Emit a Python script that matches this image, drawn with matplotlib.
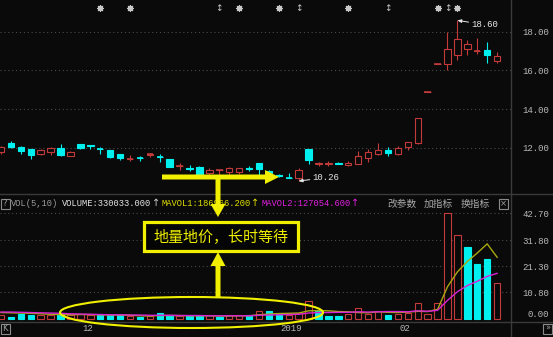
import matplotlib
matplotlib.use("Agg")
import matplotlib.pyplot as plt
import numpy as np
from matplotlib.patches import Rectangle, Ellipse, FancyArrow
from matplotlib.transforms import Affine2D

plt.rcParams['font.family'] = ['Liberation Mono', 'Noto Sans CJK SC', 'DejaVu Sans']

# 日K线 (开, 高, 低, 收)
opens  = [11.75, 12.22, 12.04, 11.91, 11.65, 11.78, 11.99, 11.56, 12.17, 12.12,
          11.95, 11.87, 11.66, 11.41, 11.46, 11.63, 11.53, 11.42, 11.03, 10.93,
          11.00, 10.66, 10.82, 10.71, 10.72, 10.93, 11.18, 10.78, 10.55, 10.44,
          10.40, 11.91, 11.15, 11.14, 11.19, 11.08, 11.14, 11.44, 11.65, 11.87,
          11.66, 12.01, 12.22, 14.87, 16.36, 16.36, 16.80, 17.10, 17.00, 17.06, 16.49]
highs  = [12.10, 12.34, 12.10, 11.93, 11.90, 12.04, 12.18, 11.80, 12.19, 12.12,
          12.04, 11.88, 11.67, 11.60, 11.57, 11.74, 11.66, 11.43, 11.22, 11.07,
          11.02, 10.95, 10.84, 10.97, 10.94, 11.06, 11.20, 10.85, 10.62, 10.66,
          10.92, 11.93, 11.26, 11.28, 11.24, 11.30, 11.82, 11.91, 12.22, 12.04,
          12.08, 12.30, 13.52, 14.87, 16.36, 18.00, 18.60, 17.58, 17.67, 17.50, 16.94]
lows   = [11.65, 12.00, 11.66, 11.39, 11.62, 11.60, 11.58, 11.54, 11.90, 11.94,
          11.65, 11.47, 11.35, 11.28, 11.32, 11.49, 11.25, 10.98, 10.83, 10.80,
          10.55, 10.55, 10.57, 10.60, 10.65, 10.76, 10.57, 10.62, 10.45, 10.42,
          10.26, 11.13, 11.05, 11.05, 11.12, 11.04, 11.12, 11.23, 11.60, 11.55,
          11.60, 11.87, 12.20, 14.87, 16.36, 16.03, 16.55, 16.80, 16.84, 16.37, 16.37]
closes = [12.05, 12.01, 11.83, 11.60, 11.87, 11.99, 11.60, 11.78, 11.99, 12.10,
          11.93, 11.49, 11.45, 11.43, 11.44, 11.66, 11.51, 11.00, 11.05, 10.91,
          10.57, 10.83, 10.84, 10.92, 10.92, 10.91, 10.87, 10.70, 10.53, 10.42,
          10.83, 11.35, 11.20, 11.20, 11.17, 11.21, 11.57, 11.75, 11.87, 11.70,
          11.99, 12.27, 13.52, 14.87, 16.36, 17.10, 17.64, 17.36, 17.02, 16.80, 16.77]

# 成交量(万) 及颜色 1=红 0=绿
vols = [1.6, 1.0, 2.1, 1.7, 1.5, 1.5, 2.1, 1.5, 2.1, 1.5,
        1.5, 1.5, 1.5, 1.1, 0.9, 1.1, 2.4, 1.5, 1.1, 1.1,
        1.1, 1.5, 0.9, 1.5, 1.5, 1.5, 3.1, 3.1, 2.1, 1.7,
        2.3, 7.1, 3.1, 1.3, 1.3, 2.1, 4.6, 2.1, 3.2, 1.5,
        2.2, 2.4, 6.4, 2.0, 6.4, 42.7, 33.8, 29.0, 22.2, 24.2, 14.5]
vol_up = [1, 0, 0, 0, 1, 1, 0, 1, 1, 1,
          0, 0, 0, 1, 0, 1, 0, 0, 1, 0,
          0, 1, 0, 1, 1, 0, 1, 0, 0, 1,
          1, 1, 0, 0, 0, 1, 1, 1, 1, 0,
          1, 1, 1, 1, 1, 1, 1, 0, 0, 0, 1]
mavol1 = [2.6, 2.5, 2.4, 2.3, 2.1, 1.9, 1.8, 1.7, 1.8, 1.8,
          1.7, 1.6, 1.6, 1.5, 1.3, 1.2, 1.4, 1.4, 1.4, 1.3,
          1.3, 1.3, 1.2, 1.2, 1.3, 1.3, 1.7, 2.0, 2.2, 2.3,
          2.4, 3.3, 3.4, 3.3, 3.0, 2.9, 2.6, 2.5, 2.9, 2.7,
          2.6, 2.8, 3.1, 3.0, 3.9, 13.0, 19.0, 23.2, 26.6, 30.3, 24.9]
mavol2 = [2.8, 2.8, 2.7, 2.6, 2.5, 2.4, 2.3, 2.1, 2.0, 1.9,
          1.8, 1.7, 1.7, 1.6, 1.6, 1.5, 1.5, 1.5, 1.4, 1.4,
          1.4, 1.3, 1.3, 1.3, 1.3, 1.3, 1.5, 1.6, 1.7, 1.8,
          1.9, 2.4, 2.6, 2.6, 2.7, 2.7, 2.9, 2.8, 2.9, 3.0,
          3.0, 2.9, 3.3, 3.1, 3.5, 7.5, 11.0, 13.5, 15.2, 17.2, 18.4]

price_ticks = [12, 14, 16, 18]
vol_ticks = [0, 10.8, 21.3, 31.8, 42.7]
date_idx = [8, 28, 40]
date_labels = ['12', '2019', '02']
star_idx = [10, 13, 24, 28, 35, 44, 46]
updown_idx = [22, 30, 39, 45]

BG = '#0a0a0a'
RED = '#c23a3a'
CYAN = '#00f0f0'
GRID = '#4a4a4a'
LINE = '#3a3a3a'
TXT = '#b8b8b8'
YEL = '#f0f000'

W, H = 553, 337
fig = plt.figure(figsize=(W / 100, H / 100), dpi=100, facecolor=BG)
pix = Affine2D().scale(1 / W, -1 / H).translate(0, 1) + fig.transFigure


def frame(x0, y0, x1, y1):
    return [x0 / W, 1 - y1 / H, (x1 - x0) / W, (y1 - y0) / H]


ax_p = fig.add_axes(frame(0, 0, 511, 193))
ax_v = fig.add_axes(frame(0, 195, 511, 322))
x = np.arange(len(opens))
o, h, l, c = map(np.array, (opens, highs, lows, closes))
up = c >= o
bw = 0.65

for ax in (ax_p, ax_v):
    ax.set_facecolor(BG)
    for s in ax.spines.values():
        s.set_visible(False)
    ax.set_xlim(-0.1, 51.4)
    ax.set_xticks([])
    ax.yaxis.tick_right()
    ax.tick_params(axis='y', length=0, pad=27.4, labelcolor=TXT, labelsize=6.5)

# K线
ax_p.vlines(x[up], l[up], h[up], color=RED, lw=0.8, zorder=1)
ax_p.vlines(x[~up], l[~up], h[~up], color=CYAN, lw=0.8, zorder=1)
ax_p.bar(x[up], (c - o)[up], bottom=o[up], width=bw, facecolor=BG, edgecolor=RED, lw=0.8, zorder=2)
ax_p.bar(x[~up], (c - o)[~up], bottom=o[~up], width=bw, facecolor=CYAN, edgecolor=CYAN, lw=0.8, zorder=2)
flat = np.abs(c - o) < 0.03
ax_p.hlines(c[flat], x[flat] - bw / 2, x[flat] + bw / 2,
            colors=[RED if u else CYAN for u in up[flat]], lw=1.2, zorder=3)
ax_p.set_yticks(price_ticks, ['%.2f' % t for t in price_ticks])
for t in price_ticks:
    ax_p.axhline(t, color=GRID, lw=0.8, ls=(0, (1, 2.5)), zorder=0)
for lbl in ax_p.get_yticklabels():
    lbl.set_ha('right')

# 最高/最低标注
arw = dict(arrowstyle='-|>,head_length=0.35,head_width=0.15', color='#e8e8e8', lw=0.7,
           shrinkA=0, shrinkB=0)
imax, imin = int(np.argmax(h)), int(np.argmin(l))
ax_p.annotate('%.2f' % h[imax], xy=(imax, h[imax]), xytext=(10, -3), textcoords='offset points',
              ha='left', va='center', color='#e8e8e8', fontsize=6.5, arrowprops=arw)
ax_p.annotate('%.2f' % l[imin], xy=(imin, l[imin]), xytext=(10, 2.5), textcoords='offset points',
              ha='left', va='center', color='#e8e8e8', fontsize=6.5, arrowprops=arw)

# 信息地雷
ax_p.scatter(star_idx, [0.958] * len(star_idx), transform=ax_p.get_xaxis_transform(),
             marker=(8, 2, 0), s=18, color='#c8c8c8', lw=0.9, clip_on=False, zorder=5)
for i in updown_idx:
    ax_p.text(i, 0.958, '↕', transform=ax_p.get_xaxis_transform(), ha='center', va='center',
              fontsize=6.5, color='#c8c8c8', family='DejaVu Sans')
ax_p.set_xlim(-0.1, 51.4)
ax_p.set_ylim(9.64, 19.66)

# 成交量
vu = np.array(vol_up, dtype=bool)
v = np.array(vols)
ax_v.bar(x[vu], v[vu], width=bw, facecolor=BG, edgecolor=RED, lw=0.8, zorder=2)
ax_v.bar(x[~vu], v[~vu], width=bw, facecolor=CYAN, edgecolor=CYAN, lw=0.8, zorder=2)
ax_v.plot(x, mavol1, color='#a8a810', lw=1.0, zorder=3)
ax_v.plot(x, mavol2, color='#d822d8', lw=1.0, zorder=3)
ax_v.set_ylim(-1.21, 50.0)
ax_v.set_yticks(vol_ticks, ['%.2f' % t for t in vol_ticks])
for t in vol_ticks[1:]:
    ax_v.axhline(t, color=GRID, lw=0.8, ls=(0, (1, 2.5)), zorder=0)
for k, lbl in enumerate(ax_v.get_yticklabels()):
    lbl.set_ha('right')
    if k == 0:
        lbl.set_va('bottom')
for i, s in zip(date_idx, date_labels):
    ax_v.text(i + 0.15, -0.055, s, transform=ax_v.get_xaxis_transform(), ha='left', va='center',
              color=TXT, fontsize=6.5)

# 面板分隔线
fig.add_artist(plt.Line2D([0, 553], [193.5, 193.5], transform=pix, color=LINE, lw=1))
fig.add_artist(plt.Line2D([0, 553], [322, 322], transform=pix, color=LINE, lw=1))
fig.add_artist(plt.Line2D([511, 511], [0, 337], transform=pix, color=LINE, lw=1))

# 指标标题栏
hy = 203.5
fig.text(11, hy, 'VOL(5,10)', transform=pix, color='#9a9a9a', fontsize=6.3, va='center')
fig.text(62, hy, 'VOLUME:330033.000', transform=pix, color='#e4e4e4', fontsize=6.3, va='center')
fig.text(152, hy, '↑', transform=pix, color='#d0d0d0', fontsize=7, va='center', family='DejaVu Sans')
fig.text(161, hy, 'MAVOL1:186966.200', transform=pix, color='#e0e000', fontsize=6.3, va='center')
fig.text(251, hy, '↑', transform=pix, color='#e0e000', fontsize=7, va='center', family='DejaVu Sans')
fig.text(262, hy, 'MAVOL2:127054.600', transform=pix, color='#e020e0', fontsize=6.3, va='center')
fig.text(351, hy, '↑', transform=pix, color='#e020e0', fontsize=7, va='center', family='DejaVu Sans')
for xx, s in [(387, '改参数'), (424, '加指标'), (461, '换指标')]:
    fig.text(xx, hy, s, transform=pix, color='#a8a8a8', fontsize=7, va='center',
             family='Noto Sans CJK SC')
for (x0, y0, s) in [(0.5, 198.5, '?'), (498.5, 198.5, '×'), (0.5, 323.5, 'K'), (543, 323.5, '»')]:
    fig.add_artist(Rectangle((x0, y0), 9, 10, transform=pix, facecolor='none', edgecolor='#8a8a8a', lw=0.8))
    fig.text(x0 + 4.5, y0 + 5, s, transform=pix, color='#a0a0a0', fontsize=6, ha='center', va='center',
             family='DejaVu Sans')

# 黄色标注
fig.add_artist(FancyArrow(162, 177, 117, 0, width=5, head_width=14, head_length=14,
                          length_includes_head=True, transform=pix, color=YEL, lw=0, zorder=10))
fig.add_artist(FancyArrow(218, 175, 0, 42, width=5, head_width=15, head_length=13,
                          length_includes_head=True, transform=pix, color=YEL, lw=0, zorder=10))
fig.add_artist(FancyArrow(218, 297, 0, -45, width=5, head_width=15, head_length=14,
                          length_includes_head=True, transform=pix, color=YEL, lw=0, zorder=10))
fig.add_artist(Rectangle((144, 222), 154, 29, transform=pix, facecolor='#050505', edgecolor=YEL,
                         lw=2.3, zorder=10))
fig.text(221, 237, '地量地价，长时等待', transform=pix, color=YEL, fontsize=10.8, ha='center',
         va='center', family='Noto Sans CJK SC', zorder=11)
fig.add_artist(Ellipse((191.5, 312.5), 263, 31, transform=pix, facecolor='none', edgecolor=YEL,
                       lw=1.5, zorder=10))

fig.savefig('out.png', dpi=100, facecolor=BG)
